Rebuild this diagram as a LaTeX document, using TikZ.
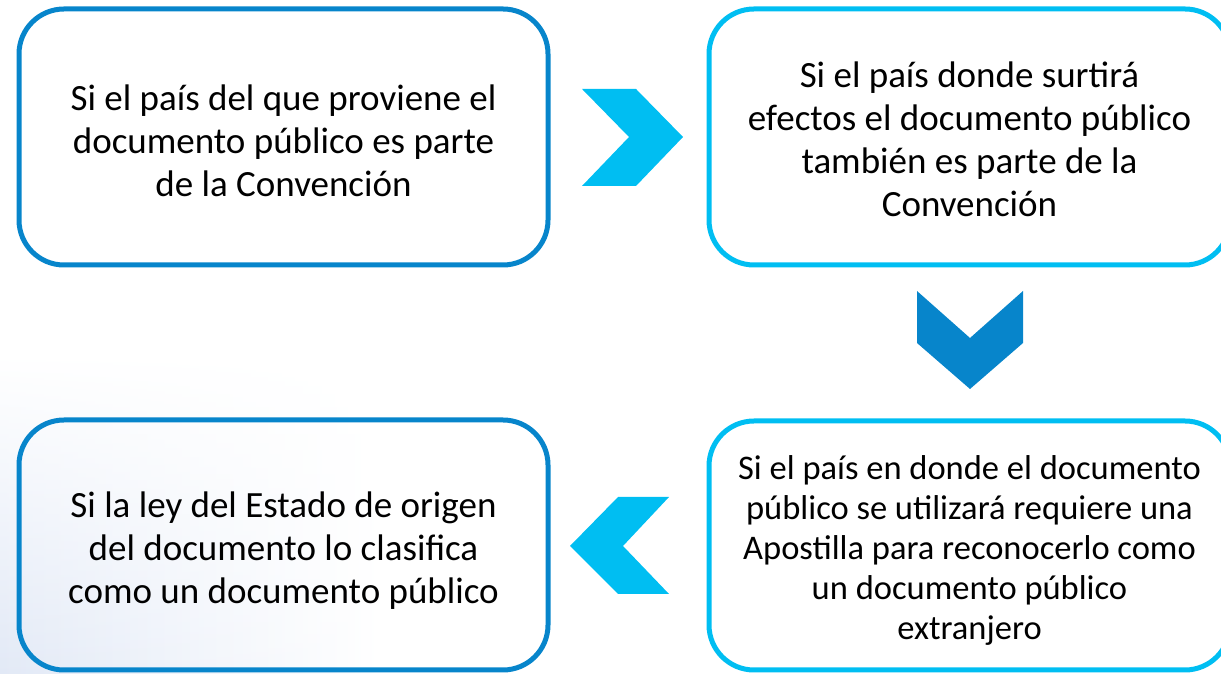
\documentclass[tikz,border=0pt]{standalone}
\usepackage{fontspec}
\setmainfont{Carlito}
\usetikzlibrary{fadings}
\definecolor{oscuro}{RGB}{7,133,203}
\definecolor{claro}{RGB}{0,190,242}
\definecolor{fondo}{RGB}{226,233,246}
\begin{document}
\begin{tikzpicture}[x=1pt,y=1pt] % diagrama de la Apostilla
\tikzstyle{caja} = [rectangle, rounded corners=45pt, line width=5pt, align=center, inner sep=0pt, font=\fontsize{37}{43}\selectfont] % caja con texto
\tikzstyle{cajaosc} = [caja, draw=oscuro] % caja azul oscuro
\tikzstyle{cajacla} = [caja, draw=claro] % caja azul claro
\useasboundingbox (0,0) rectangle (1221,674);
\shade[left color=fondo, right color=white, path fading=north] (0,0) rectangle (380,320); % fondo difuminado

\node[cajaosc, minimum width=529pt, minimum height=256pt, text height=120pt] (origen) at (283.5,537) {Si el país del que proviene el\\documento público es parte\\de la Convención}; % primera caja
\node[cajacla, minimum width=521pt, minimum height=256pt, text height=159.5pt] (efectos) at (969.5,537) {Si el país donde surtirá\\efectos el documento público\\también es parte de la\\Convención};
\node[cajacla, minimum width=521pt, minimum height=249pt, text height=193pt, font=\fontsize{34.5}{39.8}\selectfont] (apostilla) at (969.5,128.5) {Si el país en donde el documento\\público se utilizará requiere una\\Apostilla para reconocerlo como\\un documento público\\extranjero};
\node[cajaosc, minimum width=529pt, minimum height=250pt, text height=123.5pt] (ley) at (283.5,129) {Si la ley del Estado de origen\\del documento lo clasifica\\como un documento público}; % ultima caja

\coordinate (f1) at (632.5,537); % flecha derecha
\coordinate (f2) at (970,334); % flecha abajo
\coordinate (f3) at (619.5,128); % flecha izquierda
\fill[claro, shift={(f1)}] (-50.5,48) -- (3.5,48) -- (50.5,0) -- (3.5,-49) -- (-50.5,-49) -- (-3.5,0) -- cycle;
\fill[oscuro, shift={(f2)}] (-53,49) -- (0,2) -- (53,49) -- (53,-3) -- (0,-49) -- (-53,-3) -- cycle;
\fill[claro, shift={(f3)}] (-49.5,0) -- (-1.5,49) -- (49.5,49) -- (3.5,0) -- (49.5,-48) -- (-1.5,-48) -- cycle;
\end{tikzpicture}
\end{document}
